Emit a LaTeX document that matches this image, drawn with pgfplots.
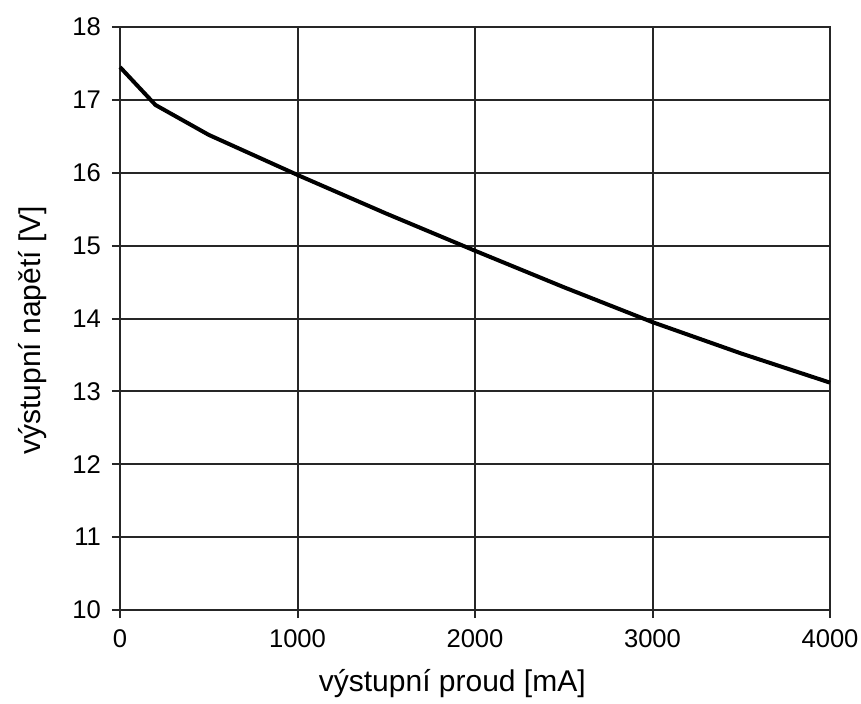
\documentclass[border=0pt]{standalone}
\usepackage{pgfplots}
\pgfplotsset{compat=1.18}
\usepackage{fontspec}
\setmainfont{Liberation Sans}
\begin{document}
\begin{tikzpicture}
\useasboundingbox (-60pt,-46.5pt) rectangle (370.5pt,305pt);
\begin{axis}[
  at={(0,0)}, anchor=south west,
  scale only axis, width=355pt, height=291.5pt,
  xmin=0, xmax=4000, ymin=10, ymax=18,
  xtick={0,1000,2000,3000,4000},
  ytick={10,11,12,13,14,15,16,17,18},
  /pgf/number format/1000 sep={},
  /pgf/number format/assume math mode=true,
  tick label style={font=\fontsize{12.8}{15}\selectfont},
  xticklabel style={yshift=-2.5pt},
  yticklabel style={xshift=-2pt},
  tick align=outside, major tick length=4pt,
  tick style={black!85, line width=1pt},
  xtick pos=bottom, ytick pos=left,
  grid=major,
  major grid style={black!85, line width=1pt},
  axis line style={black!85, line width=1pt},
  xlabel={výstupní proud [mA]},
  ylabel={výstupní napětí [V]},
  label style={font=\fontsize{15}{18}\selectfont},
  xlabel style={at={(axis description cs:0.468,-0.127)}, anchor=center},
  ylabel style={at={(axis description cs:-0.1225,0.48)}, anchor=center, rotate=0},
  clip=false,
]
\addplot[black, line width=2pt] coordinates {
(0,17.45) (200,16.93) (500,16.52) (1000,15.97) (1500,15.44) (2000,14.93) (2500,14.43) (3000,13.95) (3500,13.52) (4000,13.12)
};
\end{axis}
\end{tikzpicture}
\end{document}
